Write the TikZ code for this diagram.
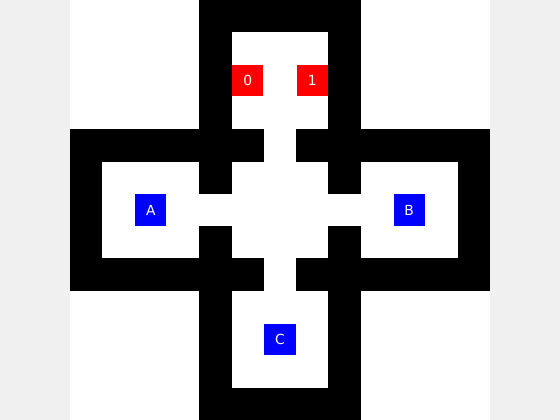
\documentclass[tikz,border=0pt]{standalone}
\usepackage{fontspec}
\setmainfont{DejaVu Sans}
\definecolor{bggray}{HTML}{F0F0F0}
\definecolor{pure red}{HTML}{FF0000}
\definecolor{pure blue}{HTML}{0000FF}
\begin{document}
\begin{tikzpicture}[x=24.2308pt,y=24.2308pt,
  wall/.style={fill=black},
  tile/.style={minimum size=23.3pt,inner sep=0pt,text=white,font=\fontsize{10.4pt}{12pt}\selectfont},
  redtile/.style={tile,fill=pure red},
  bluetile/.style={tile,fill=pure blue}]
\fill[bggray] (-2.16667,0) rectangle (15.16667,13);
\useasboundingbox (-2.16667,0) rectangle (15.16667,13);
\fill[white] (0,0) rectangle (13,13);
% walls
\fill[wall] (4,12) rectangle (9,13);
\fill[wall] (4,9) rectangle (5,12);
\fill[wall] (8,9) rectangle (9,12);
\fill[wall] (0,8) rectangle (6,9);
\fill[wall] (7,8) rectangle (13,9);
\fill[wall] (0,4) rectangle (1,9);
\fill[wall] (12,4) rectangle (13,9);
\fill[wall] (4,7) rectangle (5,8);
\fill[wall] (8,7) rectangle (9,8);
\fill[wall] (4,5) rectangle (5,6);
\fill[wall] (8,5) rectangle (9,6);
\fill[wall] (0,4) rectangle (6,5);
\fill[wall] (7,4) rectangle (13,5);
\fill[wall] (4,1) rectangle (5,4);
\fill[wall] (8,1) rectangle (9,4);
\fill[wall] (4,0) rectangle (9,1);
% tiles
\node[redtile] (t0) at (5.5,10.5) {0};
\node[redtile] (t1) at (7.5,10.5) {1};
\node[bluetile] (tA) at (2.5,6.5) {A};
\node[bluetile] (tB) at (10.5,6.5) {B};
\node[bluetile] (tC) at (6.5,2.5) {C};
\end{tikzpicture}
\end{document}
